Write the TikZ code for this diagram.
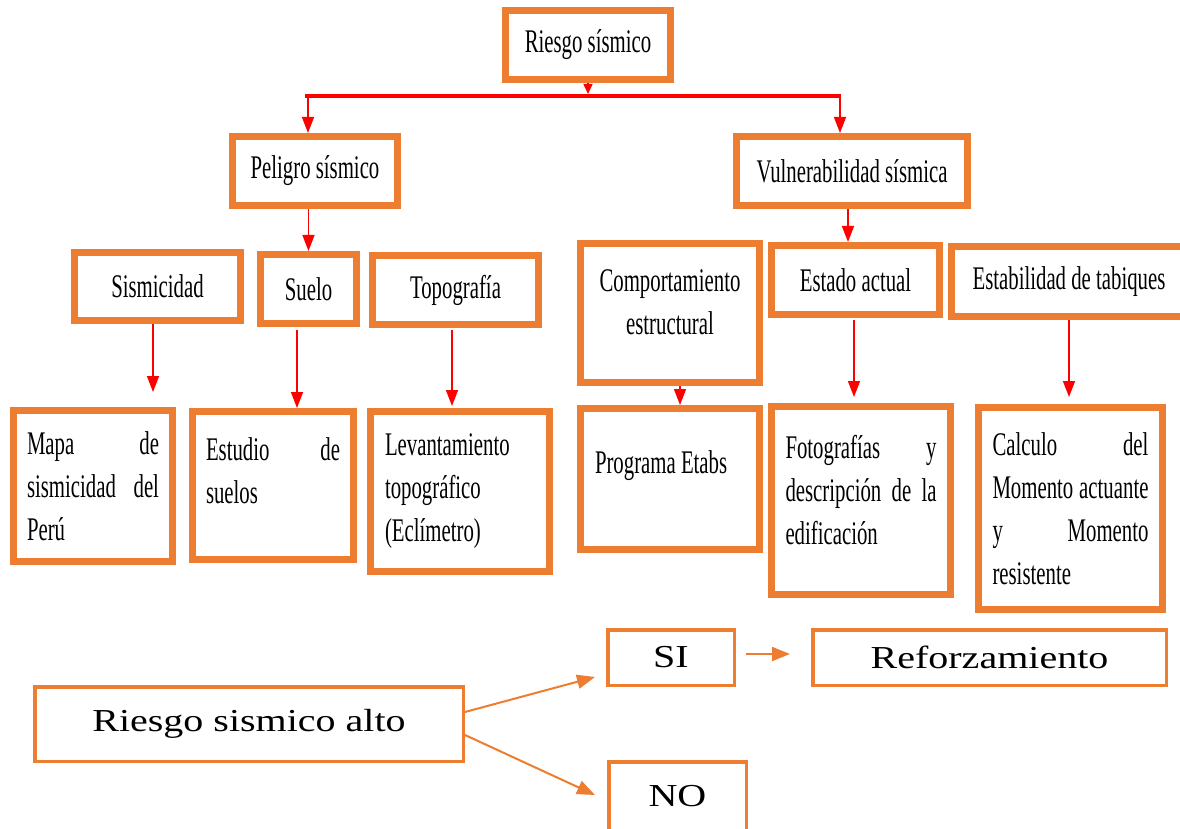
\documentclass[tikz,border=0pt]{standalone}
\usepackage{fontspec}
\usepackage{tikz}
\usetikzlibrary{arrows.meta}
\setmainfont{Liberation Serif}
\newfontfamily\condserif[FakeStretch=0.63]{Liberation Serif}
\newfontfamily\wideserif[FakeStretch=1.25]{Liberation Serif}
\definecolor{boxorange}{HTML}{ED7D31}
\definecolor{linkred}{HTML}{FF0000}
\tolerance=10000
\hbadness=10000
\tikzset{
  topbox/.style = {draw=boxorange, line width=3.5pt, fill=white, inner sep=2pt,
                   font=\condserif\fontsize{16.5}{21.5}\selectfont},
  lowbox/.style = {draw=boxorange, line width=1.75pt, fill=white, inner sep=2pt,
                   font=\wideserif\fontsize{16}{20}\selectfont},
  bus/.style    = {draw=linkred, line width=2pt},
  redarr/.style = {draw=linkred, line width=0.75pt, -{Triangle[length=8pt,width=6pt]}},
  redtip/.style = {draw=linkred, line width=0.75pt, -{Triangle[length=5pt,width=4.5pt]}},
  orarr/.style  = {draw=boxorange, line width=1pt, -{Triangle[length=9pt,width=7pt]}},
}
\begin{document}
\begin{tikzpicture}[x=0.5pt,y=-0.5pt]
  \clip (0,0) rectangle (1180,829);
  % top levels
  \node[topbox, minimum width=82.5pt, minimum height=34.5pt] (risk) at (588,45) {Riesgo sísmico};
  \node[topbox, minimum width=82.5pt, minimum height=34.5pt] (peligro) at (315,171) {Peligro sísmico};
  \node[topbox, minimum width=115.5pt, minimum height=34.5pt] (vuln) at (852,171) {Vulnerabilidad sísmica};
  % factors
  \node[topbox, minimum width=83pt, minimum height=34pt] (sism) at (157.5,286.5) {Sismicidad};
  \node[topbox, minimum width=48pt, minimum height=34.5pt] (suelo) at (308.5,289) {Suelo};
  \node[topbox, minimum width=83pt, minimum height=34.5pt] (topo) at (455.5,290) {Topografía};
  \node[topbox, minimum width=89.5pt, minimum height=69.5pt, text width=85pt, align=center] (comp) at (670,313)
    {Comportamiento\\ estructural\vspace*{11pt}};
  \node[topbox, minimum width=84pt, minimum height=34.5pt] (estado) at (855.5,280) {Estado actual};
  \node[topbox, minimum width=117.5pt, minimum height=35pt] (estab) at (1069,281.5) {Estabilidad de tabiques};
  % methods
  \node[topbox, minimum width=79.5pt, minimum height=75.5pt, text width=66pt, align=justify] (mapa) at (93,486)
    {Mapa de\linebreak sismicidad del\linebreak Perú};
  \node[topbox, minimum width=80.5pt, minimum height=74pt, text width=67pt, align=justify] (estudio) at (273,485.5)
    {Estudio de\linebreak suelos\vspace*{15pt}};
  \node[topbox, minimum width=89.5pt, minimum height=80pt, text width=75pt, align=left] (levant) at (460,491.5)
    {Levantamiento\\ topográfico\\ (Eclímetro)};
  \node[topbox, minimum width=89.5pt, minimum height=70.5pt, text width=75pt, align=left] (etabs) at (670,479)
    {\spaceskip=0pt Programa Etabs\vspace*{13pt}};
  \node[topbox, minimum width=89.5pt, minimum height=94pt, text width=75.5pt, align=justify] (foto) at (861,500.5)
    {Fotografías y\linebreak descripción de la\linebreak edificación\vspace*{10pt}};
  \node[topbox, minimum width=92pt, minimum height=101pt, text width=78pt, align=justify] (calc) at (1070.5,508.5)
    {Calculo del\linebreak Momento actuante\linebreak y Momento\linebreak resistente};
  % decision
  \node[lowbox, minimum width=214.25pt, minimum height=37.25pt] (alto) at (249,724) {Riesgo sismico alto};
  \node[lowbox, minimum width=63.25pt, minimum height=27.75pt] (si) at (671,657.5) {SI};
  \node[lowbox, minimum width=176.75pt, minimum height=27.75pt] (refo) at (989.5,657.5) {Reforzamiento};
  \node[lowbox, minimum width=68.75pt, minimum height=34.25pt] (no) at (677.5,796) {NO};
  % red connectors
  \coordinate (busL) at (308,96);
  \coordinate (busR) at (840,96);
  \draw[bus] ([xshift=-1.5pt]busL) -- ([xshift=0.5pt]busR);
  \draw[redtip, shorten >=1pt] (risk.south) -- (risk.south |- busL);
  \draw[redarr] (busL) -- (busL |- peligro.north);
  \draw[redarr] (busR) -- (busR |- vuln.north);
  \draw[redarr] (peligro.south -| suelo.north) -- (suelo.north);
  \draw[redarr] ([xshift=-2pt]vuln.south) -- ([xshift=-3.75pt]estado.north);
  \draw[redarr] ([xshift=-2.25pt]sism.south) -- ([xshift=30pt,yshift=7.5pt]mapa.north);
  \draw[redarr] ([xshift=-5.75pt,yshift=-1.5pt]suelo.south) -- ([xshift=12pt]estudio.north);
  \draw[redarr] ([xshift=-1.75pt,yshift=-1pt]topo.south) -- ([xshift=-4pt,yshift=1pt]levant.north);
  \draw[redarr] ([xshift=5pt]comp.south) -- ([xshift=5pt]etabs.north);
  \draw[redarr] ([xshift=-0.75pt,yshift=-1pt]estado.south) -- ([xshift=-3.5pt,yshift=3pt]foto.north);
  \draw[redarr] (estab.south) -- ([xshift=-0.75pt,yshift=3.5pt]calc.north);
  % orange connectors
  \draw[orarr] ([yshift=6pt]alto.east) -- ([xshift=-5.5pt,yshift=-9.75pt]si.west);
  \draw[orarr] ([yshift=-5.5pt]alto.east) -- ([xshift=-6pt,yshift=0.5pt]no.west);
  \draw[orarr] ([xshift=5pt,yshift=1.75pt]si.east) -- ([xshift=-10.5pt,yshift=1.75pt]refo.west);
\end{tikzpicture}
\end{document}
